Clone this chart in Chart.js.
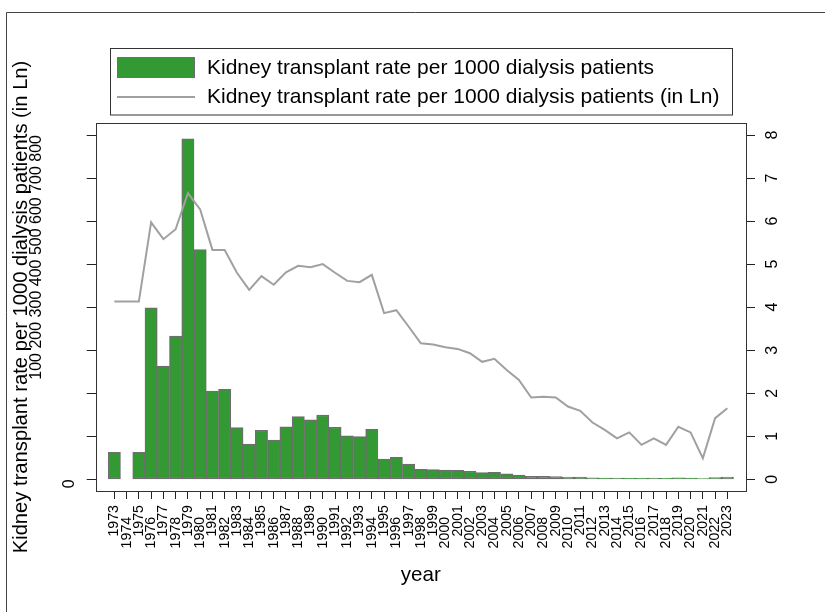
<!DOCTYPE html>
<html>
<head>
<meta charset="utf-8">
<script src="https://cdn.jsdelivr.net/npm/chart.js@4.4.1/dist/chart.umd.min.js"></script>
<style>
  html, body { margin: 0; padding: 0; background: #fff; }
  canvas { display: block; }
</style>
</head>
<body>
<canvas id="chart" width="825" height="612"></canvas>
<script>
// data
const years = [
  1973, 1974, 1975, 1976, 1977, 1978, 1979, 1980, 1981, 1982,
  1983, 1984, 1985, 1986, 1987, 1988, 1989, 1990, 1991, 1992,
  1993, 1994, 1995, 1996, 1997, 1998, 1999, 2000, 2001, 2002,
  2003, 2004, 2005, 2006, 2007, 2008, 2009, 2010, 2011, 2012,
  2013, 2014, 2015, 2016, 2017, 2018, 2019, 2020, 2021, 2022, 2023
];
const transplantRate = [
  62.7, null, 62.7, 398.7, 263, 333, 791, 534, 205, 209,
  120, 82, 114, 91, 122, 146, 138, 149, 121, 101,
  99, 116, 47.2, 51, 35.5, 23.2, 22.8, 21.5, 20.6, 18.8,
  15.6, 16.3, 12.6, 9.8, 6.7, 6.8, 6.6, 5.4, 4.9, 3.7,
  3.1, 2.6, 3.0, 2.2, 2.6, 2.2, 3.4, 3.0, 1.6, 4.1, 5.2
];
const transplantRateLn = [
  4.13, 4.13, 4.13, 5.97, 5.58, 5.81, 6.65, 6.27, 5.33, 5.33,
  4.80, 4.40, 4.72, 4.52, 4.81, 4.96, 4.93, 5.00, 4.80, 4.61,
  4.58, 4.75, 3.86, 3.93, 3.55, 3.16, 3.13, 3.07, 3.03, 2.93,
  2.73, 2.80, 2.54, 2.31, 1.90, 1.92, 1.90, 1.69, 1.59, 1.32,
  1.15, 0.95, 1.09, 0.80, 0.95, 0.80, 1.22, 1.09, 0.49, 1.42, 1.65
];
const leftTicks = [0, 100, 200, 300, 400, 500, 600, 700, 800];
const rightTicks = [0, 1, 2, 3, 4, 5, 6, 7, 8];

const barLabel = 'Kidney transplant rate per 1000 dialysis patients';
const lineLabel = 'Kidney transplant rate per 1000 dialysis patients (in Ln)';

const FONT = "'Liberation Sans', Arial, Helvetica, sans-serif";
const GREEN = '#339933';
const BAR_EDGE = '#6e6e6e';
const LINE_GRAY = '#a0a0a0';
const AXIS = '#222';

const boxesPlugin = {
    id: 'boxes',
    beforeDraw(chart) {
        const ctx = chart.ctx;
        ctx.save();
        ctx.fillStyle = '#fff';
        ctx.fillRect(0, 0, chart.width, chart.height);
        // outer frame (only left and top edges fall inside the picture)
        ctx.strokeStyle = '#444';
        ctx.lineWidth = 1;
        ctx.beginPath();
        ctx.moveTo(6.5, chart.height);
        ctx.lineTo(6.5, 12.5);
        ctx.lineTo(chart.width, 12.5);
        ctx.stroke();
        ctx.restore();
    },
    afterDraw(chart) {
        const ctx = chart.ctx;
        const a = chart.chartArea;
        ctx.save();
        ctx.strokeStyle = '#333';
        ctx.lineWidth = 1;
        ctx.strokeRect(Math.round(a.left) + 0.5, Math.round(a.top) + 0.5,
            Math.round(a.right - a.left), Math.round(a.bottom - a.top));

        // legend box
        ctx.strokeRect(110.5, 48.5, 622, 66.5);
        const bar = chart.data.datasets[1];
        const line = chart.data.datasets[0];
        ctx.fillStyle = bar.backgroundColor;
        ctx.fillRect(117, 57, 78, 21);
        ctx.strokeStyle = bar.borderColor;
        ctx.strokeRect(117.5, 57.5, 77, 20);
        ctx.strokeStyle = line.borderColor;
        ctx.lineWidth = line.borderWidth;
        ctx.beginPath();
        ctx.moveTo(117, 97);
        ctx.lineTo(195, 97);
        ctx.stroke();
        ctx.fillStyle = '#000';
        ctx.font = '21px ' + FONT;
        ctx.textBaseline = 'middle';
        ctx.fillText(bar.label, 207, 68);
        ctx.fillText(line.label, 207, 97.5);
        ctx.restore();
    }
};

const ctx = document.getElementById('chart');

new Chart(ctx, {
    data: {
        datasets: [
            {
                type: 'line',
                label: lineLabel,
                yAxisID: 'y1',
                data: years.map((yr, i) => ({ x: yr, y: transplantRateLn[i] })),
                borderColor: LINE_GRAY,
                borderWidth: 2,
                pointRadius: 0,
                tension: 0,
                order: 0,
            },
            {
                type: 'bar',
                label: barLabel,
                yAxisID: 'y',
                data: years.map((yr, i) => ({ x: yr, y: transplantRate[i] })),
                backgroundColor: GREEN,
                borderColor: BAR_EDGE,
                borderWidth: 1.3,
                borderSkipped: false,
                barPercentage: 1,
                categoryPercentage: 1,
                order: 1,
            },
        ]
    },
    options: {
        responsive: false,
        animation: false,
        devicePixelRatio: 1,
        layout: { padding: { left: 0, right: 0, top: 123, bottom: 21 } },
        plugins: {
            legend: { display: false },
            tooltip: { enabled: false },
        },
        scales: {
            x: {
                type: 'linear',
                min: 1971.48,
                max: 2024.52,
                offset: false,
                afterBuildTicks: (scale) => { scale.ticks = years.map((v) => ({ value: v })); },
                afterFit: (scale) => { scale.height = 100; },
                grid: {
                    offset: false,
                    drawOnChartArea: false,
                    drawTicks: true,
                    tickLength: 8,
                    color: AXIS,
                },
                border: { display: false },
                ticks: {
                    autoSkip: false,
                    minRotation: 90,
                    maxRotation: 90,
                    padding: 6,
                    color: '#000',
                    font: { family: FONT, size: 14.2 },
                    // alternate labels: even years sit lower
                    callback: (v) => (v % 2 === 0 ? v + '   ' : String(v)),
                },
                title: {
                    display: true,
                    text: 'year',
                    color: '#000',
                    font: { family: FONT, size: 20.6, lineHeight: 1.2 },
                    padding: { top: 4, bottom: 3.8 },
                },
            },
            y: {
                type: 'linear',
                position: 'left',
                min: -27.19,
                max: 827.9,
                afterBuildTicks: (scale) => { scale.ticks = leftTicks.map((v) => ({ value: v })); },
                afterFit: (scale) => { scale.width = 95.7; },
                grid: {
                    drawOnChartArea: false,
                    drawTicks: true,
                    tickLength: 9,
                    color: AXIS,
                },
                border: { display: false },
                ticks: {
                    autoSkip: false,
                    minRotation: 90,
                    maxRotation: 90,
                    crossAlign: 'near',
                    padding: 17.2,
                    color: '#000',
                    font: { family: FONT, size: 16, lineHeight: 1.04 },
                    callback: (v) => {
                        if (v === 0) return '0';
                        if (v === leftTicks[leftTicks.length - 1]) {
                            return [leftTicks.slice(1).join(' '), '', '', '', ''];
                        }
                        return '';
                    },
                },
                title: {
                    display: true,
                    text: lineLabel,
                    color: '#000',
                    font: { family: FONT, size: 20.2, lineHeight: 1.2 },
                    padding: { top: 9, bottom: 0 },
                },
            },
            y1: {
                type: 'linear',
                position: 'right',
                min: -0.2719,
                max: 8.279,
                afterBuildTicks: (scale) => { scale.ticks = rightTicks.map((v) => ({ value: v })); },
                afterFit: (scale) => { scale.width = 79; },
                grid: {
                    drawOnChartArea: false,
                    drawTicks: true,
                    tickLength: 9,
                    color: AXIS,
                },
                border: { display: false },
                ticks: {
                    autoSkip: false,
                    minRotation: 90,
                    maxRotation: 90,
                    crossAlign: 'center',
                    padding: 13,
                    color: '#000',
                    font: { family: FONT, size: 16 },
                    callback: (v) => String(v),
                },
            },
        }
    },
    plugins: [boxesPlugin]
});
</script>
</body>
</html>
